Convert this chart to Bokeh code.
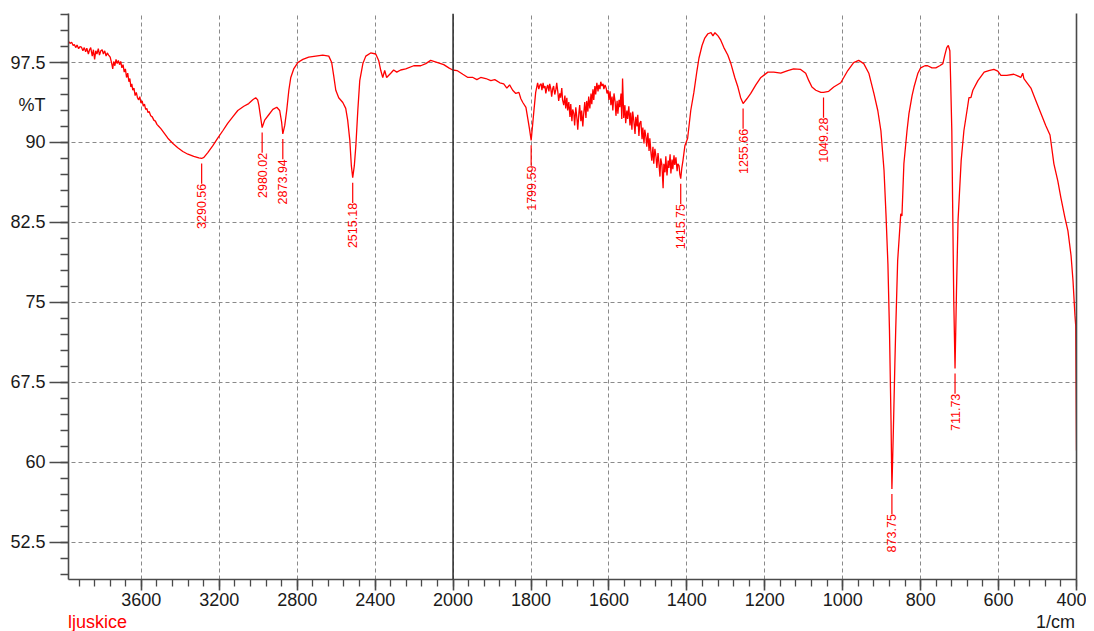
import numpy as np
from bokeh.plotting import figure
from bokeh.models import (Range1d, FixedTicker, LinearAxis, Span, Div,
                          CustomJSTickFormatter)
from bokeh.layouts import column
from bokeh.embed import file_html
from bokeh.resources import INLINE
from bokeh.core.properties import value

# ---------------- data ----------------
wavenumber = [
    3975, 3966, 3958, 3950, 3944, 3937, 3930, 3922, 3915, 3908, 3900, 3893, 3886, 3880,
    3872, 3866, 3860, 3852, 3846, 3840, 3834, 3828, 3821, 3815, 3808, 3801, 3795, 3788,
    3781, 3775, 3768, 3760, 3752, 3747, 3742, 3736, 3730, 3724, 3718, 3712, 3706, 3700,
    3694, 3688, 3682, 3676, 3670, 3664, 3659, 3654, 3649, 3644, 3638, 3632, 3626, 3620,
    3614, 3608, 3602, 3596, 3590, 3584, 3578, 3572, 3566, 3560, 3552, 3544, 3536, 3528,
    3520, 3510, 3500, 3480, 3464, 3438, 3413, 3387, 3361, 3331, 3305,
    3290.56, 3279, 3259, 3233, 3208, 3182, 3157, 3131, 3105, 3074, 3049, 3028, 3013, 3003,
    2997, 2980.02, 2967, 2946, 2925, 2905, 2890, 2880, 2873.94, 2864, 2854, 2843, 2833,
    2818, 2797, 2771, 2741, 2705, 2669, 2638, 2623, 2613, 2602, 2587, 2566, 2551, 2541,
    2530, 2522, 2515.18, 2507, 2499, 2489, 2479, 2463, 2448, 2423, 2397, 2382, 2371, 2361,
    2351, 2341, 2320, 2305, 2289, 2269, 2243, 2202, 2166, 2140, 2115, 2079, 2048, 2022,
    2002, 1990, 1975, 1962, 1949, 1939, 1929, 1916, 1903, 1893, 1880, 1870, 1862, 1855,
    1847, 1839, 1831, 1826, 1821, 1813, 1808, 1804, 1799.59, 1796, 1793, 1788, 1783,
    1780, 1777, 1774, 1772, 1769, 1767, 1764, 1762, 1759, 1757, 1754, 1752, 1749, 1747,
    1744, 1742, 1739, 1736, 1734, 1731, 1729, 1726, 1724, 1721, 1719, 1716, 1713, 1711,
    1708, 1706, 1703, 1700, 1698, 1695, 1693, 1690, 1688, 1685, 1682, 1680, 1677, 1675,
    1672, 1670, 1667, 1665, 1662, 1659, 1657, 1654, 1652, 1649, 1646, 1644, 1641, 1639,
    1636, 1634, 1631, 1628, 1626, 1623, 1621, 1618, 1615, 1613, 1610, 1607, 1605, 1602,
    1600, 1597, 1595, 1592, 1590, 1587, 1584, 1582, 1579, 1577, 1574, 1572, 1569, 1567,
    1565, 1562, 1559, 1557, 1554, 1552, 1549, 1546, 1544, 1541, 1539, 1536, 1533, 1531,
    1528, 1526, 1523, 1521, 1518, 1515, 1513, 1510, 1508, 1505, 1503, 1500, 1497, 1495,
    1492, 1490, 1487, 1485, 1482, 1479, 1477, 1474, 1472, 1469, 1467, 1464, 1461, 1459,
    1456, 1454, 1451, 1448, 1446, 1443, 1441, 1438, 1436, 1433, 1431, 1428, 1425, 1423,
    1420, 1418, 1415.75, 1413,
    1410, 1405, 1398, 1390, 1382, 1374, 1369, 1361, 1354, 1346, 1338, 1333, 1328, 1320,
    1313, 1305, 1295, 1287, 1277, 1269, 1262, 1255.66, 1246, 1236, 1223, 1210, 1192, 1177,
    1159, 1141, 1126, 1108, 1095, 1087, 1079, 1069, 1056, 1049.28, 1036, 1023, 1005, 987,
    972, 959, 946, 933, 920, 910, 902, 894, 889, 884, 880, 876, 873.75, 870, 866, 864,
    859, 853, 851, 848, 843, 835, 830, 822, 817, 807, 800, 789, 782, 771, 761, 751, 743,
    738, 733, 729, 725, 723, 720, 718, 715, 711.73, 708, 704, 701, 696, 689, 681, 676,
    671, 666, 653, 637, 625, 612, 602, 594, 579, 561, 548, 543, 538, 535, 527, 517, 504,
    491, 479, 468, 458, 448, 440, 430, 422, 414, 409, 404, 402, 400,
]
transmittance = [
    99.5, 99.3, 99.4, 99.1, 99.2, 98.9, 99.15, 98.8, 99.0, 98.95, 98.6, 98.9, 98.5, 98.85,
    98.3, 98.7, 98.9, 98.1, 98.7, 97.8, 98.6, 98.3, 98.8, 98.2, 98.6, 98.7, 98.3, 98.6,
    98.1, 98.4, 98.2, 98.0, 97.4, 96.9, 97.6, 97.2, 97.8, 97.4, 97.7, 97.3, 97.6, 97.0,
    97.3, 96.6, 96.9, 96.1, 96.5, 95.7, 96.0, 95.2, 95.5, 94.9, 95.1, 94.4, 94.7, 94.2,
    94.0, 94.3, 93.7, 93.9, 93.4, 93.6, 93.1, 93.2, 92.8, 92.9, 92.5, 92.4, 92.1, 92.0,
    91.7, 91.5, 91.3, 90.8, 90.4, 89.9, 89.5, 89.15, 88.9, 88.7, 88.55,
    88.5, 88.6, 89.05, 89.7, 90.4, 91.1, 91.8, 92.4, 93.0, 93.4, 93.65, 94.0, 94.2, 94.0,
    93.5, 91.4, 92.1, 92.6, 93.1, 93.3, 93.0, 91.9, 90.8, 91.6, 93.0, 94.9, 96.1,
    96.9, 97.5, 97.8, 98.0, 98.1, 98.2, 98.1, 97.5, 96.3, 94.9, 94.2, 93.75, 93.2, 92.1,
    90.2, 87.8, 86.7, 87.8, 89.7, 93.0, 95.8, 97.4, 98.1, 98.4, 98.3, 97.7, 96.75, 96.1,
    96.75, 96.1, 96.5, 96.8, 96.6, 96.8, 96.9, 97.2, 97.2, 97.4, 97.7, 97.5, 97.3, 97.0,
    96.8, 96.75, 96.4, 96.1, 96.1, 95.9, 96.1, 96.0, 95.8, 95.9, 95.6, 95.5, 95.1, 95.4,
    94.9, 94.6, 94.7, 94.1, 93.75, 93.3, 92.2, 91.3, 90.2, 91.6, 92.8, 94.7, 95.6,
    95.0, 95.4, 95.5, 94.9, 95.6, 95.1, 95.3, 94.6, 95.2, 95.4, 94.8, 95.5, 95.0, 94.3,
    95.1, 95.3, 94.5, 95.0, 95.6, 94.7, 93.9, 94.6, 94.2, 95.1, 94.0, 93.5, 94.4, 93.2,
    94.2, 93.0, 93.8, 92.4, 93.6, 92.0, 93.1, 92.7, 91.6, 93.3, 92.2, 91.2, 92.8, 93.5,
    92.0, 93.0, 91.5, 92.6, 93.8, 92.3, 93.9, 92.9, 94.3, 93.2, 94.6, 93.6, 95.0, 94.0,
    95.3, 94.5, 95.6, 94.8, 95.4, 95.0, 95.7, 95.3, 95.5, 95.0, 95.4, 95.1, 94.6, 94.9,
    94.0, 94.8, 93.5, 94.3, 93.0, 94.6, 93.8, 92.5, 93.9, 92.7, 94.0, 93.3, 94.6, 92.2,
    96.0, 92.3, 93.5, 91.8, 93.0, 92.2, 93.4, 91.6, 92.8, 91.2, 92.9, 92.0, 90.8, 92.4,
    91.5, 92.6, 90.6, 91.8, 92.0, 90.3, 91.4, 89.9, 91.2, 90.5, 89.6, 90.9, 89.2, 90.4,
    89.0, 88.3, 89.6, 88.0, 89.4, 88.6, 87.6, 89.0, 88.2, 86.8, 88.5, 87.9, 85.7, 88.0,
    87.2, 88.7, 86.9, 88.3, 87.6, 88.9, 87.1, 88.4, 87.5, 88.8, 87.9, 88.6, 87.3, 88.0,
    87.8, 87.0, 86.6, 87.6,
    88.3, 89.7, 90.4, 93.0, 94.7, 96.75, 97.9, 99.1, 99.8, 100.2, 100.3, 100.0, 100.3, 100.0,
    99.6, 98.9, 98.2, 97.4, 96.1, 95.2, 94.2, 93.65, 94.1, 94.6, 95.4, 96.1, 96.6, 96.6,
    96.5, 96.75, 96.9, 96.85, 96.5, 95.8, 95.2, 94.9, 94.7, 94.7, 94.8, 95.2, 95.6, 96.75,
    97.5, 97.7, 97.4, 96.5, 94.6, 93.0, 91.1, 87.4, 83.3, 78.6, 72.4, 63.9, 57.5, 63.0, 69.5, 72.4,
    78.9, 82.2, 83.3, 83.1, 88.0, 91.1, 92.7, 94.4, 95.2, 96.5, 97.0, 97.2, 97.2, 97.0, 97.0, 97.2, 97.4,
    98.2, 98.9, 99.1, 98.6, 95.8, 91.1, 84.6, 75.2, 68.8, 76.1, 82.7, 84.8, 88.3, 91.1, 93.0, 94.2,
    94.2, 94.9, 95.8, 96.6, 96.75, 96.85, 96.7, 96.3, 96.3, 96.4, 96.2, 96.1, 96.5, 96.0, 95.6, 95.1, 93.9,
    92.7, 91.6, 90.7, 88.0, 86.4, 84.8, 83.0, 81.7, 79.4, 77.05, 73.8, 72.8, 61.1,
]

peak_wn = [3290.56, 2980.02, 2873.94, 2515.18, 1799.59, 1415.75, 1255.66, 1049.28, 873.75, 711.73]
peak_t = [88.5, 91.4, 90.8, 86.7, 90.2, 86.6, 93.65, 94.7, 57.5, 68.8]
peak_labels = ["3290.56", "2980.02", "2873.94", "2515.18", "1799.59",
               "1415.75", "1255.66", "1049.28", "873.75", "711.73"]

x_tick_wn = [3600, 3200, 2800, 2400, 2000, 1800, 1600, 1400, 1200, 1000, 800, 600, 400]
x_tick_labels = ["3600", "3200", "2800", "2400", "2000", "1800", "1600", "1400",
                 "1200", "1000", "800", "600", "400"]
y_ticks = [52.5, 60, 67.5, 75, 82.5, 90, 97.5]
y_tick_labels = ["52.5", "60", "67.5", "75", "82.5", "90", "97.5"]
y_title = "%T"
y_title_pos = 93.56
x_title = "1/cm"
sample_name = "ljuskice"

# ---------------- axis with a scale change at 2000 1/cm ----------------
BREAK = 2000.0


def to_u(w):
    w = np.asarray(w, dtype=float)
    return np.where(w > BREAK, BREAK + (w - BREAK) / 2.0, w)


FONT = "Liberation Sans"
AX = "#4a4a4a"
RED = "#ff0000"
TXT = "#1a1a1a"

LOOKUP = "const i = vals.findIndex(v => Math.abs(v - tick) < 1e-6); return i >= 0 ? labs[i] : '';"

p = figure(width=1086, height=613, output_backend="svg", toolbar_location=None,
           x_range=Range1d(2987, 400), y_range=Range1d(49.0, 102.1),
           min_border_left=68, min_border_right=10, min_border_top=13,
           min_border_bottom=34)
p.outline_line_color = None
p.background_fill_color = "white"
p.border_fill_color = "white"

xt = [float(v) for v in to_u(x_tick_wn)]
p.xaxis.ticker = FixedTicker(ticks=xt, minor_ticks=list(np.arange(400, 2987, 40.0)))
p.xaxis.formatter = CustomJSTickFormatter(args=dict(vals=xt, labs=x_tick_labels), code=LOOKUP)

# y axis: tick marks only (labels are drawn by an outer axis so "%T" can sit among them)
p.yaxis.ticker = FixedTicker(ticks=y_ticks, minor_ticks=list(np.arange(49.5, 102.2, 1.5)))
p.yaxis.formatter = CustomJSTickFormatter(args=dict(vals=[], labs=[]), code="return '';")
p.ygrid.ticker = FixedTicker(ticks=y_ticks)
p.xgrid.ticker = FixedTicker(ticks=xt)

for ax in (p.xaxis[0], p.yaxis[0]):
    ax.axis_line_color = AX
    ax.axis_line_width = 1.6
    ax.major_tick_line_color = AX
    ax.minor_tick_line_color = AX
    ax.major_tick_line_width = 1.6
    ax.minor_tick_line_width = 1.3
    ax.major_tick_in = 0
    ax.minor_tick_in = 0
    ax.major_label_text_font = FONT
    ax.major_label_text_font_size = "18px"
    ax.major_label_text_color = TXT

p.xaxis.major_tick_out = 11
p.xaxis.minor_tick_out = 7
p.xaxis.major_label_standoff = 2
p.yaxis.major_tick_out = 19
p.yaxis.minor_tick_out = 8
p.yaxis.major_label_standoff = 0
p.yaxis.major_label_text_font_size = "0px"

ylab_vals = y_ticks + [y_title_pos]
ylab_labs = y_tick_labels + [y_title]
label_ax = LinearAxis(ticker=FixedTicker(ticks=ylab_vals, minor_ticks=[]),
                      formatter=CustomJSTickFormatter(args=dict(vals=ylab_vals, labs=ylab_labs), code=LOOKUP),
                      axis_line_color=None, major_tick_line_color=None, minor_tick_line_color=None,
                      major_tick_out=0, minor_tick_out=0, major_tick_in=0, minor_tick_in=0,
                      major_label_standoff=4, major_label_text_font=FONT,
                      major_label_text_font_size="18px", major_label_text_color=TXT)
p.add_layout(label_ax, "left")

right_ax = LinearAxis(ticker=FixedTicker(ticks=[]), major_label_text_font_size="0px",
                      axis_line_color=AX, axis_line_width=1.6,
                      major_tick_line_color=None, minor_tick_line_color=None)
p.add_layout(right_ax, "right")

p.grid.grid_line_color = "#8a8a8a"
p.grid.grid_line_dash = "4 3"
p.grid.grid_line_width = 1

p.add_layout(Span(location=BREAK, dimension="height", line_color="#333333", line_width=1.6))

# spectrum
p.line(to_u(wavenumber), transmittance, line_color=RED, line_width=1.3)

# peak markers
pt = np.asarray(peak_t, dtype=float)
gap = 0.47
tick_len = 1.9
pu = to_u(peak_wn)
p.segment(x0=pu, y0=pt - gap, x1=pu, y1=pt - gap - tick_len, line_color=RED, line_width=1.2)
p.text(x=pu, y=pt - gap - tick_len, text=peak_labels, angle=np.pi / 2,
       text_align="right", text_baseline="middle", text_color=RED,
       text_font=value(FONT), text_font_size="12.5px")

footer = Div(
    text=('<div style="position:relative;width:1086px;height:18px;'
          'font-family:\'Liberation Sans\',Arial,sans-serif;font-size:18px;line-height:18px;">'
          f'<span style="position:absolute;left:68px;top:0;color:{RED}">{sample_name}</span>'
          f'<span style="position:absolute;right:11px;top:0;color:{TXT}">{x_title}</span></div>'),
    width=1086, height=18, margin=0)

layout = column(p, footer, spacing=0)

open("out.html", "w").write(file_html(layout, INLINE))
